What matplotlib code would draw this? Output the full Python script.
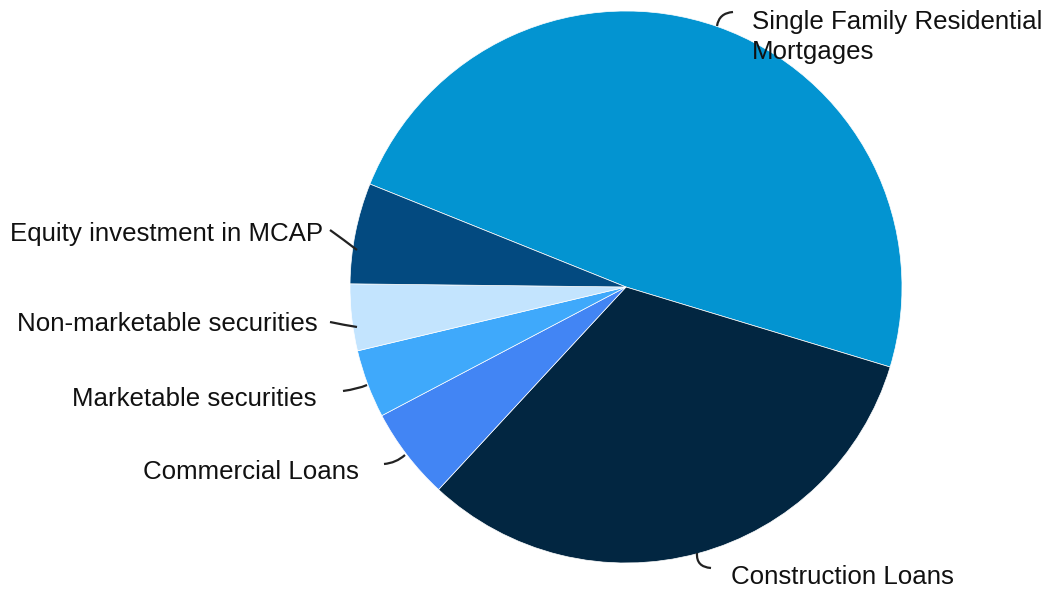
import matplotlib.pyplot as plt
from matplotlib.path import Path
from matplotlib.patches import PathPatch

labels = ["Single Family Residential\nMortgages", "Construction Loans", "Commercial Loans",
          "Marketable securities", "Non-marketable securities", "Equity investment in MCAP"]
values = [48.6, 32.2, 5.4, 4.0, 3.9, 5.9]
colors = ["#0394d1", "#022641", "#4285f4", "#3fa9fb", "#c3e4fe", "#034a80"]

plt.rcParams['font.family'] = ['Liberation Sans', 'DejaVu Sans']

W, H = 1046, 589
fig = plt.figure(figsize=(W / 100, H / 100), dpi=100)
ax = fig.add_axes([0, 0, 1, 1])

cx, cy, r = 626, 287, 276
ax.pie(values, colors=colors, startangle=158.1, counterclock=False,
       center=(cx, H - cy), radius=r, frame=True,
       wedgeprops=dict(linewidth=0.5, edgecolor='white'))
ax.set_xlim(0, W)
ax.set_ylim(0, H)
ax.set_aspect('equal')
ax.axis('off')

# label positions in pixels from the top-left: (x, y, alignment)
label_pos = [(752, 37, 'left'), (731, 577, 'left'), (359, 472, 'right'),
             (316, 399, 'right'), (318, 324, 'right'), (323, 234, 'right')]
# connectors: start, control, end (pixels from top-left)
connectors = [((717, 26), (719, 13), (733, 12)),
              ((697, 553), (696, 567), (711, 568)),
              ((405, 455), (396, 463), (384, 464)),
              ((367, 385), (358, 389), (343, 391)),
              ((357, 327), (344, 325), (330, 322)),
              ((357, 250), (344, 240), (330, 230))]

for lab, (x, y, ha) in zip(labels, label_pos):
    ax.text(x, H - y, lab, ha=ha, va='center', fontsize=18.6, color='#111111',
            linespacing=1.36)

for p0, p1, p2 in connectors:
    verts = [(p0[0], H - p0[1]), (p1[0], H - p1[1]), (p2[0], H - p2[1])]
    path = Path(verts, [Path.MOVETO, Path.CURVE3, Path.CURVE3])
    ax.add_patch(PathPatch(path, facecolor='none', edgecolor='#222222', lw=1.6))

fig.savefig('out.png', dpi=100)
